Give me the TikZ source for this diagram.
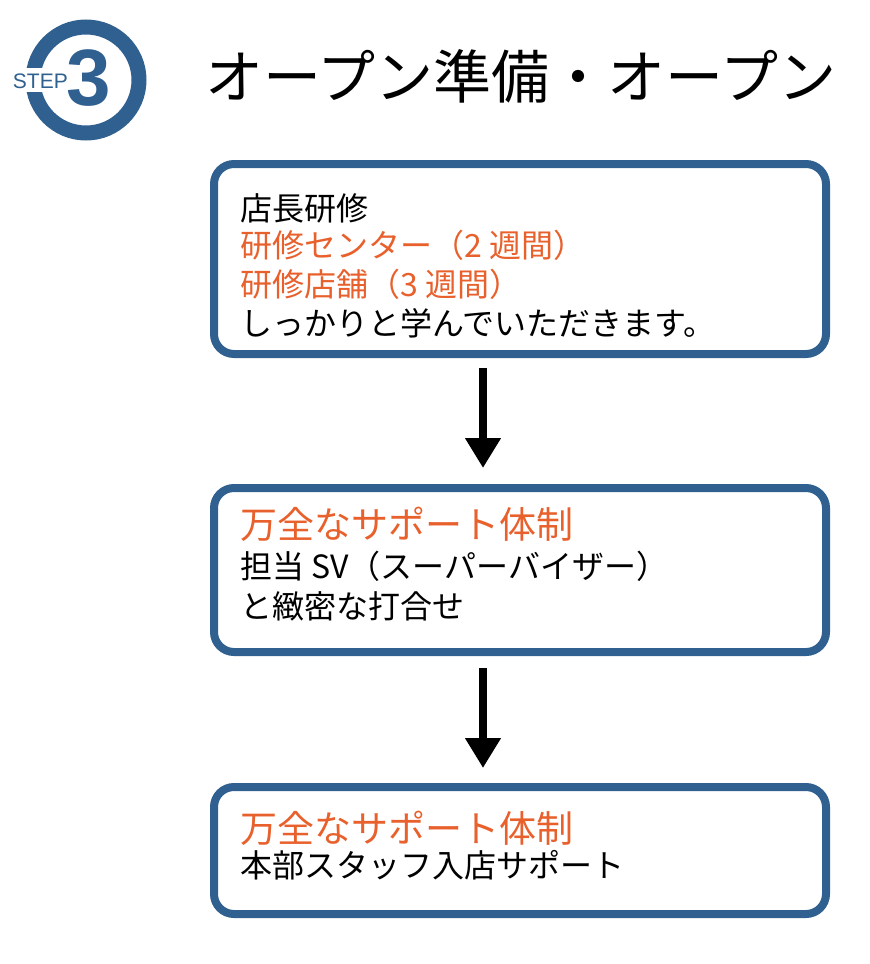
\documentclass[tikz,border=0pt]{standalone}
\usepackage{fontspec}
\setmainfont{Noto Sans CJK JP}
\setsansfont{Liberation Sans}
\usetikzlibrary{arrows.meta}
\definecolor{stepblue}{HTML}{2F6090}
\definecolor{accent}{HTML}{E8602C}

\begin{document}
\begin{tikzpicture}[x=1pt,y=-1pt,
    box/.style={draw=stepblue,line width=8pt,rounded corners=20pt},
    txt/.style={anchor=west,inner sep=0pt,font=\fontsize{32}{34}\selectfont},
    big/.style={anchor=west,inner sep=0pt,font=\fontsize{37}{39}\selectfont,text=accent},
    flow/.style={line width=8pt,-{Triangle[length=30pt,width=34pt]}}]
        \useasboundingbox (0,0) rectangle (870,964);
        % badge
        \draw[stepblue,line width=15pt] (86,80) circle[radius=53];
        \fill[white] (10,68) rectangle (66,92);
        \node[anchor=east,inner sep=0pt,text=stepblue,font=\sffamily\fontsize{21}{21}\selectfont] (step) at (68,81) {STEP};
        \node[inner sep=0pt,text=stepblue,font=\sffamily\bfseries\fontsize{80}{80}\selectfont] (num) at (89,78) {3};
        \node[anchor=west,inner sep=0pt,font=\fontsize{58}{60}\selectfont] (title) at (205,76) {オープン準備・オープン};

        % boxes
        \draw[box] (214,164) rectangle (826,354);
        \draw[box] (214,488) rectangle (826,652);
        \draw[box] (214,787) rectangle (826,914);
        \coordinate (b1) at (483,368);
        \coordinate (b1e) at (483,468);
        \coordinate (b2) at (483,668);
        \coordinate (b2e) at (483,768);
        \draw[flow] (b1) -- (b1e);
        \draw[flow] (b2) -- (b2e);

        \node[txt] (l1) at (240,208) {店長研修};
        \node[txt,text=accent] (l2) at (240,245) {研修センター（2 週間）};
        \node[txt,text=accent] (l3) at (240,284) {研修店舗（3 週間）};
        \node[txt] (l4) at (240,323) {しっかりと学んでいただきます。};

        \node[big] (s1) at (240,524) {万全なサポート体制};
        \node[txt] (s2) at (240,566) {担当 SV（スーパーバイザー）};
        \node[txt] (s3) at (240,606) {と緻密な打合せ};

        \node[big] (h1) at (240,828) {万全なサポート体制};
        \node[txt] (h2) at (240,865) {本部スタッフ入店サポート};
      \end{tikzpicture}
\end{document}
